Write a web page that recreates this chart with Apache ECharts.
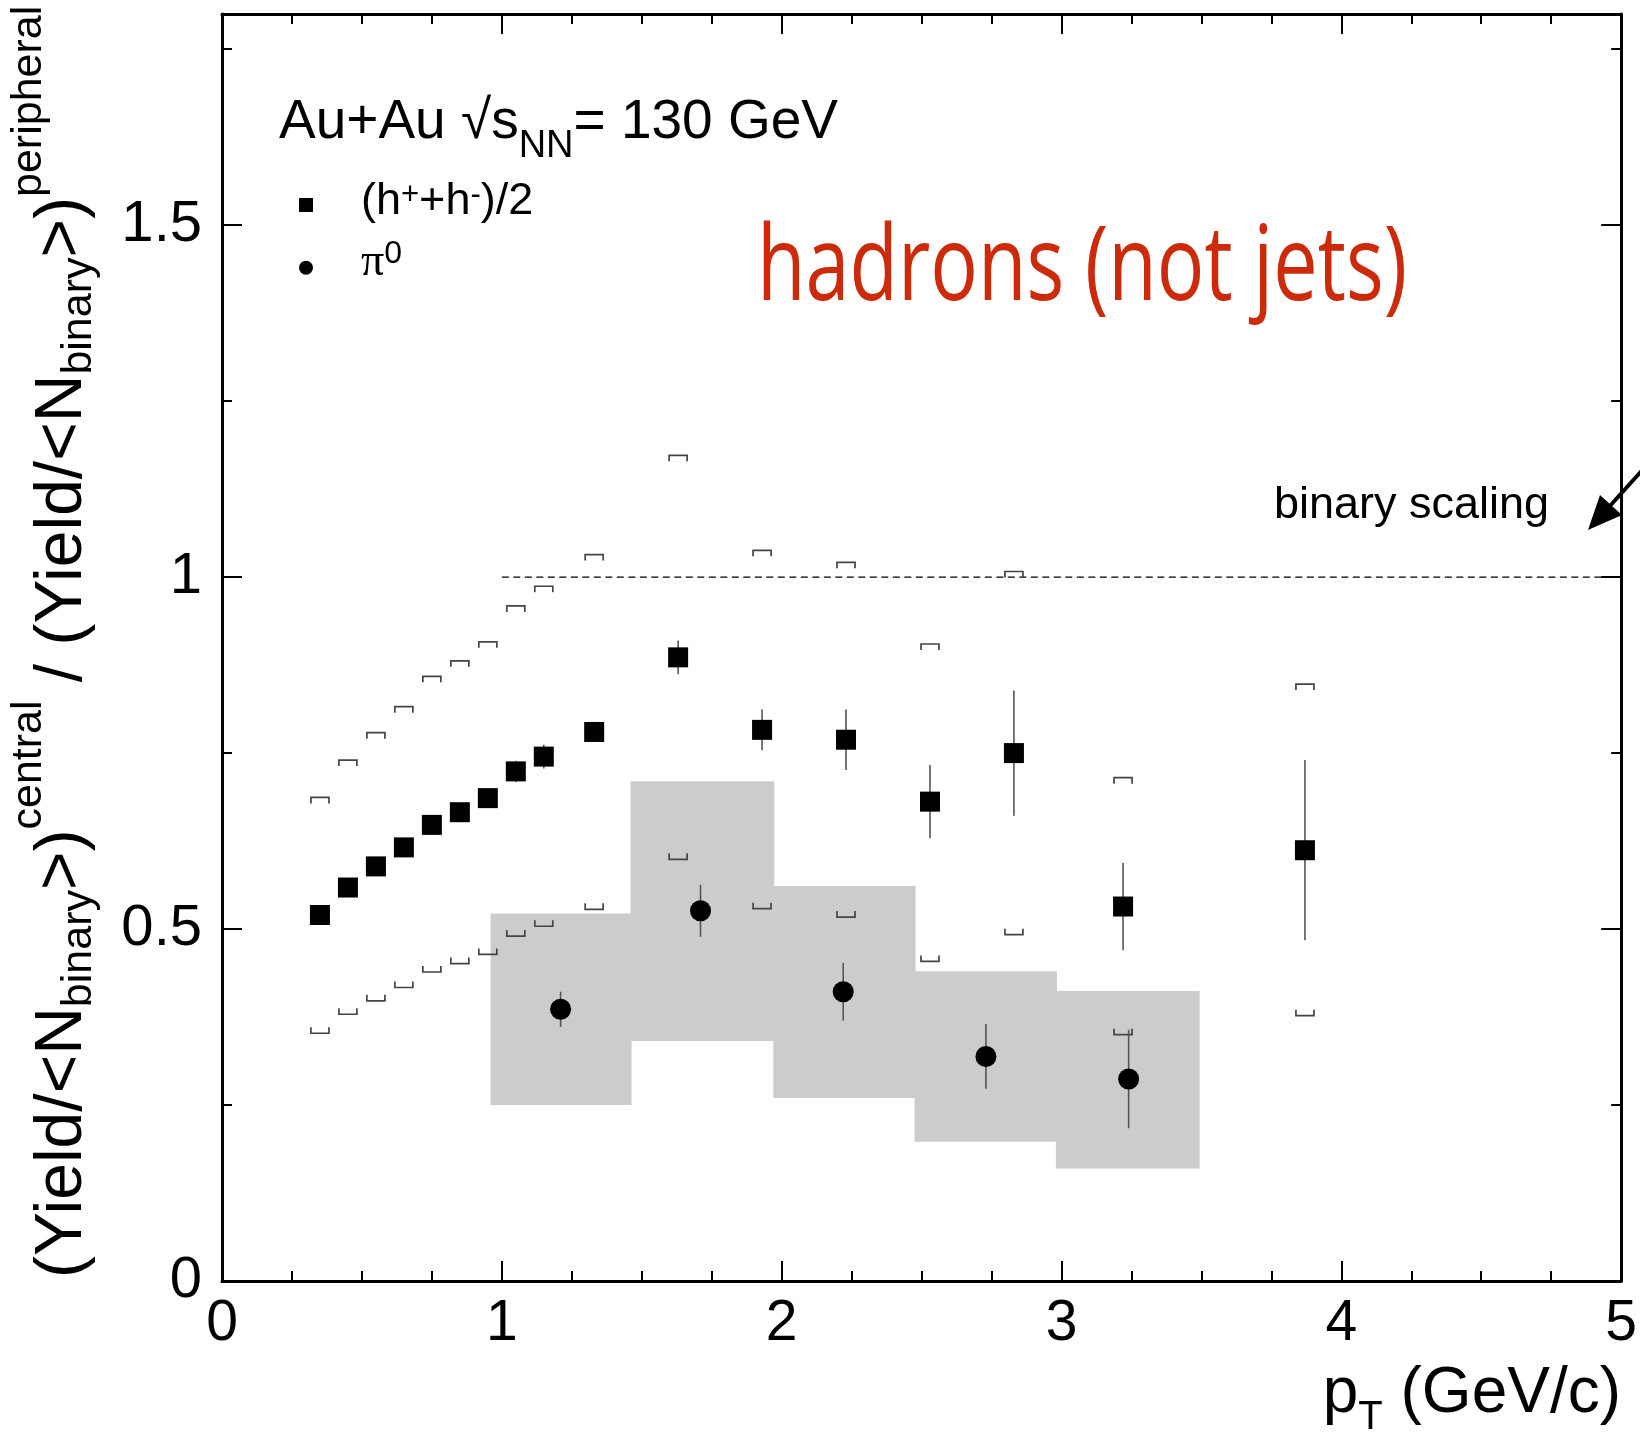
<!DOCTYPE html>
<html>
<head>
<meta charset="utf-8">
<script src="https://cdn.jsdelivr.net/npm/echarts@6/dist/echarts.min.js"></script>
<style>
  html, body { margin: 0; padding: 0; background: #ffffff; }
  #chart { width: 1640px; height: 1433px; }
</style>
</head>
<body>
<div id="chart"></div>
<script>
// Charged hadrons (h+ + h-)/2: central / peripheral yield ratio per binary collision
const hPt      = [0.35, 0.45, 0.55, 0.65, 0.75, 0.85, 0.95, 1.05, 1.15, 1.33, 1.63, 1.93, 2.23, 2.53, 2.83, 3.22, 3.87];
const hRatio   = [0.520, 0.559, 0.589, 0.616, 0.648, 0.666, 0.686, 0.724, 0.745, 0.780, 0.886, 0.783, 0.769, 0.681, 0.750, 0.532, 0.612];
const hStat    = [0.006, 0.006, 0.007, 0.007, 0.008, 0.008, 0.009, 0.015, 0.017, 0.012, 0.024, 0.029, 0.043, 0.052, 0.089, 0.062, 0.128];
const hSysHigh = [0.687, 0.740, 0.779, 0.816, 0.859, 0.881, 0.908, 0.959, 0.987, 1.032, 1.173, 1.038, 1.021, 0.905, 1.008, 0.715, 0.848];
const hSysLow  = [0.352, 0.379, 0.398, 0.417, 0.439, 0.451, 0.464, 0.490, 0.504, 0.528, 0.599, 0.529, 0.517, 0.454, 0.492, 0.350, 0.377];

// Neutral pions
const piPt      = [1.21, 1.71, 2.22, 2.73, 3.24];
const piRatio   = [0.386, 0.526, 0.411, 0.319, 0.287];
const piStat    = [0.025, 0.037, 0.041, 0.046, 0.070];
const piBinLow  = [0.96, 1.46, 1.97, 2.475, 2.98];
const piBinHigh = [1.46, 1.97, 2.475, 2.98, 3.49];
const piSysLow  = [0.250, 0.341, 0.260, 0.198, 0.160];
const piSysHigh = [0.522, 0.710, 0.561, 0.440, 0.412];

// Binary-collision scaling reference level
const scalingPt    = [1, 5];
const scalingLevel = [1, 1];

// Axis ticks
const xTickLabels = ['0', '1', '2', '3', '4', '5'];
const yTickValues = [0, 0.5, 1, 1.5];
const yTickLabels = ['0', '0.5', '1', '1.5'];

const SANS = '"Liberation Sans", Arial, Helvetica, sans-serif';
const BLACK = '#000000';

function measure(str, font) {
  const ctx = document.createElement('canvas').getContext('2d');
  ctx.font = font;
  return ctx.measureText(str).width;
}

const chart = echarts.init(document.getElementById('chart'), null, { renderer: 'canvas' });

const majorTick = { show: true, inside: true, length: 20, lineStyle: { color: BLACK, width: 2 } };
const minorTick = { show: true, inside: true, length: 10, lineStyle: { color: BLACK, width: 2 } };
const frameLine = { show: true, onZero: false, lineStyle: { color: BLACK, width: 3 } };
const noLine = { show: false, onZero: false };

function yAxisDef(position, interval, tick, line, labels) {
  return {
    type: 'value', position, min: 0, max: 1.8, interval,
    axisLine: line, axisTick: tick, splitLine: { show: false },
    axisLabel: labels ? {
      show: true, margin: 20, fontSize: 58, fontFamily: SANS, color: BLACK,
      formatter: v => {
        const i = yTickValues.findIndex(t => Math.abs(t - v) < 1e-9);
        return i >= 0 ? yTickLabels[i] : '';
      }
    } : { show: false }
  };
}

function xAxisDef(position, labels) {
  return {
    type: 'value', position, min: 0, max: 5, interval: 1,
    axisLine: frameLine, axisTick: majorTick,
    minorTick: { show: true, splitNumber: 4, length: 10, lineStyle: { color: BLACK, width: 2 } },
    splitLine: { show: false }, minorSplitLine: { show: false },
    axisLabel: labels ? {
      show: true, margin: 15, fontSize: 57, fontFamily: SANS, color: BLACK,
      formatter: v => xTickLabels[Math.round(v)]
    } : { show: false }
  };
}

// Red annotation, condensed to its span
const redFontSize = 105;
const redText = 'hadrons (not jets)';
const redScale = 650 / measure(redText, redFontSize + 'px "Open Sans"');

const option = {
  animation: false,
  backgroundColor: '#ffffff',
  textStyle: { fontFamily: SANS },
  grid: { left: 222, top: 14, right: 18, bottom: 152, containLabel: false },
  xAxis: [xAxisDef('bottom', true), xAxisDef('top', false)],
  yAxis: [
    yAxisDef('left', 0.5, majorTick, frameLine, true),
    yAxisDef('left', 0.25, minorTick, noLine, false),
    yAxisDef('right', 0.5, majorTick, frameLine, false),
    yAxisDef('right', 0.25, minorTick, noLine, false)
  ],
  series: [
    {
      // pi0 systematic bands
      type: 'custom', name: 'pi0 systematic', silent: true, z: 1,
      data: piPt.map((_, i) => [piBinLow[i], piBinHigh[i], piSysLow[i], piSysHigh[i]]),
      encode: { x: [0, 1], y: [2, 3] },
      renderItem: (params, api) => {
        const p0 = api.coord([api.value(0), api.value(3)]);
        const p1 = api.coord([api.value(1), api.value(2)]);
        return {
          type: 'rect',
          shape: { x: p0[0], y: p0[1], width: p1[0] - p0[0] + 1, height: p1[1] - p0[1] },
          style: { fill: '#cccccc' }
        };
      }
    },
    {
      type: 'line', name: 'binary scaling', silent: true, z: 2,
      data: scalingPt.map((x, i) => [x, scalingLevel[i]]),
      symbol: 'none',
      lineStyle: { color: BLACK, width: 1.2, type: [7, 4.5] }
    },
    {
      // hadron systematic brackets
      type: 'custom', name: 'hadron systematic', silent: true, z: 3,
      data: hPt.map((x, i) => [x, hSysHigh[i], hSysLow[i]]),
      encode: { x: 0, y: [1, 2] },
      renderItem: (params, api) => {
        const x = api.value(0);
        const hi = api.coord([x, api.value(1)]);
        const lo = api.coord([x, api.value(2)]);
        const w = 9, leg = 6;
        const st = { stroke: '#444444', lineWidth: 1.7, fill: null };
        return {
          type: 'group',
          children: [
            { type: 'polyline', shape: { points: [[hi[0] - w, hi[1] + leg], [hi[0] - w, hi[1]], [hi[0] + w, hi[1]], [hi[0] + w, hi[1] + leg]] }, style: st },
            { type: 'polyline', shape: { points: [[lo[0] - w, lo[1] - leg], [lo[0] - w, lo[1]], [lo[0] + w, lo[1]], [lo[0] + w, lo[1] - leg]] }, style: st }
          ]
        };
      }
    },
    {
      // statistical error bars
      type: 'custom', name: 'stat errors', silent: true, z: 4,
      data: hPt.map((x, i) => [x, hRatio[i] - hStat[i], hRatio[i] + hStat[i]])
        .concat(piPt.map((x, i) => [x, piRatio[i] - piStat[i], piRatio[i] + piStat[i]])),
      encode: { x: 0, y: [1, 2] },
      renderItem: (params, api) => {
        const a = api.coord([api.value(0), api.value(1)]);
        const b = api.coord([api.value(0), api.value(2)]);
        return {
          type: 'line',
          shape: { x1: a[0], y1: a[1], x2: b[0], y2: b[1] },
          style: { stroke: '#555555', lineWidth: 1.6 }
        };
      }
    },
    {
      type: 'scatter', name: 'hadrons', z: 5,
      data: hPt.map((x, i) => [x, hRatio[i]]),
      symbol: 'rect', symbolSize: 20,
      itemStyle: { color: BLACK, opacity: 1 }
    },
    {
      type: 'scatter', name: 'pi0', z: 5,
      data: piPt.map((x, i) => [x, piRatio[i]]),
      symbol: 'circle', symbolSize: 21,
      itemStyle: { color: BLACK, opacity: 1 }
    }
  ],
  graphic: [
    // collision system
    {
      type: 'text', x: 279, y: 123, z: 10,
      style: {
        text: '{m|Au+Au √s}{sub|NN}{m|= 130 GeV}',
        verticalAlign: 'middle', align: 'left',
        rich: {
          m: { fontSize: 55, fontFamily: SANS, fill: BLACK },
          sub: { fontSize: 38, fontFamily: SANS, fill: BLACK, padding: [47, 0, 0, 0] }
        }
      }
    },
    // legend
    { type: 'rect', z: 10, shape: { x: 299, y: 198, width: 14, height: 14 }, style: { fill: BLACK } },
    {
      type: 'text', x: 361, y: 201.5, z: 10,
      style: {
        text: '{m|(h}{sup|+}{m|+h}{sup|-}{m|)/2}',
        verticalAlign: 'middle', align: 'left',
        rich: {
          m: { fontSize: 45, fontFamily: SANS, fill: BLACK },
          sup: { fontSize: 31, fontFamily: SANS, fill: BLACK, padding: [0, 0, 12, 0] }
        }
      }
    },
    { type: 'circle', z: 10, shape: { cx: 306, cy: 267.7, r: 7 }, style: { fill: BLACK } },
    {
      type: 'text', x: 361, y: 263, z: 10,
      style: {
        text: '{m|π}{sup|0}',
        verticalAlign: 'middle', align: 'left',
        rich: {
          m: { fontSize: 46, fontFamily: '"Liberation Serif", "Times New Roman", serif', fill: BLACK },
          sup: { fontSize: 32, fontFamily: SANS, fill: BLACK, padding: [0, 0, 18, 0] }
        }
      }
    },
    // red annotation
    {
      type: 'text', x: 757, y: 270.5, z: 10, scaleX: redScale,
      style: {
        text: redText, verticalAlign: 'middle', align: 'left',
        fontSize: redFontSize, fontFamily: '"Open Sans", Lato, sans-serif', fill: '#cc2a0a'
      }
    },
    // binary scaling label and arrow
    {
      type: 'text', x: 1274, y: 506, z: 10,
      style: { text: 'binary scaling', verticalAlign: 'middle', align: 'left', fontSize: 45, fontFamily: SANS, fill: BLACK }
    },
    {
      type: 'line', z: 10,
      shape: { x1: 1655, y1: 456, x2: 1609, y2: 507 },
      style: { stroke: BLACK, lineWidth: 4 }
    },
    {
      type: 'polygon', z: 10,
      shape: { points: [[1588, 530], [1622, 515], [1612, 506], [1600, 495]] },
      style: { fill: BLACK }
    },
    // x-axis title
    {
      type: 'text', x: 1621, y: 1394.5, z: 10,
      style: {
        text: '{m|p}{sub|T}{m| (GeV/c)}',
        verticalAlign: 'middle', align: 'right',
        rich: {
          m: { fontSize: 64, fontFamily: SANS, fill: BLACK },
          sub: { fontSize: 40, fontFamily: SANS, fill: BLACK, padding: [47, 0, 0, 0] }
        }
      }
    },
    // y-axis title, reading upward
    {
      type: 'text', x: 63, y: 1278, rotation: Math.PI / 2, z: 10,
      style: {
        text: '{m|(Yield/<N}{sub|binary}{m|>)}{sup|central}{m| / (Yield/<N}{sub|binary}{m|>)}{sup|peripheral}',
        verticalAlign: 'middle', align: 'left',
        rich: {
          m: { fontSize: 66, fontFamily: SANS, fill: BLACK },
          sub: { fontSize: 43, fontFamily: SANS, fill: BLACK, padding: [32, 0, 0, 0] },
          sup: { fontSize: 43, fontFamily: SANS, fill: BLACK, padding: [0, 0, 68, 0] }
        }
      }
    }
  ]
};

chart.setOption(option);
</script>
</body>
</html>
